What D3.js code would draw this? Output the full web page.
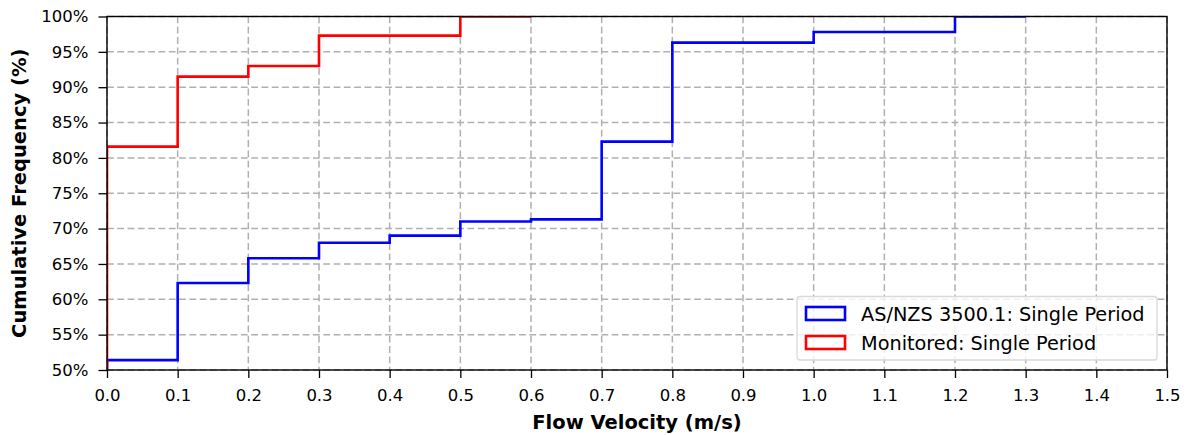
<!DOCTYPE html>
<html><head><meta charset="utf-8">
<script src="https://cdn.jsdelivr.net/npm/d3@7"></script>
<style>body{margin:0;background:#fff}svg{display:block}text{font-family:"DejaVu Sans",sans-serif}</style>
</head><body><svg id="c" width="1187" height="435"></svg>
<script>
// bin edges (m/s) and cumulative frequency (%) of each step
const blueEdges = [0.0, 0.1, 0.2, 0.3, 0.4, 0.5, 0.6, 0.7, 0.8, 1.0, 1.2];
const blueValues = [51.4, 62.3, 65.8, 68.0, 69.0, 71.0, 71.3, 82.3, 96.3, 97.8, 100];
const redEdges = [0.0, 0.1, 0.2, 0.3, 0.5];
const redValues = [81.6, 91.5, 93.0, 97.3, 100];
const xTicks = [0.0,0.1,0.2,0.3,0.4,0.5,0.6,0.7,0.8,0.9,1.0,1.1,1.2,1.3,1.4,1.5];
const yTicks = [50,55,60,65,70,75,80,85,90,95,100];
const legendLabels = ["AS/NZS 3500.1: Single Period", "Monitored: Single Period"];

const svg = d3.select("#c");
const L=107, R=1167, T=16.5, B=370;
const x = d3.scaleLinear().domain([0,1.5]).range([L,R]);
const y = d3.scaleLinear().domain([50,100]).range([B,T]);

svg.append("defs").append("clipPath").attr("id","clip")
  .append("rect").attr("x",L).attr("y",T).attr("width",R-L).attr("height",B-T);

// grid
const g = svg.append("g");
g.selectAll(".gx").data(xTicks).join("line")
  .attr("x1",d=>x(d)).attr("x2",d=>x(d)).attr("y1",T).attr("y2",B)
  .attr("stroke","#b0b0b0").attr("stroke-width",1.5).attr("stroke-dasharray","6.8,3.5");
g.selectAll(".gy").data(yTicks).join("line")
  .attr("y1",d=>y(d)).attr("y2",d=>y(d)).attr("x1",L).attr("x2",R)
  .attr("stroke","#b0b0b0").attr("stroke-width",1.5).attr("stroke-dasharray","6.8,3.5");

function stepPath(edges, vals, endX){
  const pts = [[edges[0], 0]];
  for(let i=0;i<edges.length;i++){
    pts.push([edges[i], vals[i]]);
    const nx = i+1<edges.length ? edges[i+1] : endX;
    pts.push([nx, vals[i]]);
  }
  return d3.line().x(d=>x(d[0])).y(d=>y(d[1]))(pts);
}
const plot = svg.append("g").attr("clip-path","url(#clip)");
plot.append("path").attr("d",stepPath(blueEdges,blueValues,1.3))
  .attr("fill","none").attr("stroke","#0000ff").attr("stroke-width",2.6);
plot.append("path").attr("d",stepPath(redEdges,redValues,0.6))
  .attr("fill","none").attr("stroke","#ff0000").attr("stroke-width",2.6);

// axes
const xa = svg.append("g").attr("transform",`translate(0,${B})`)
  .call(d3.axisBottom(x).tickValues(xTicks).tickFormat(d3.format(".1f")).tickSize(8).tickPadding(11));
const ya = svg.append("g").attr("transform",`translate(${L},0)`)
  .call(d3.axisLeft(y).tickValues(yTicks).tickFormat(d=>d+"%").tickSize(8.5).tickPadding(10));
[xa,ya].forEach(a=>{
  a.select(".domain").remove();
  a.selectAll("line").attr("stroke","#000").attr("stroke-width",1.3);
  a.selectAll("text").attr("font-size",16.5).attr("fill","#000").attr("font-family","DejaVu Sans");
});
svg.append("rect").attr("x",L).attr("y",T).attr("width",R-L).attr("height",B-T)
  .attr("fill","none").attr("stroke","#000").attr("stroke-width",1.4);

svg.append("text").attr("x",(L+R)/2).attr("y",429).attr("text-anchor","middle")
  .attr("font-size",19.5).attr("font-weight","bold").text("Flow Velocity (m/s)");
svg.append("text").attr("transform",`translate(26,${(T+B)/2}) rotate(-90)`).attr("text-anchor","middle")
  .attr("font-size",19.5).attr("font-weight","bold").text("Cumulative Frequency (%)");

// legend
const lg = svg.append("g");
lg.append("rect").attr("x",797).attr("y",296.5).attr("width",360).attr("height",63.5).attr("rx",3)
  .attr("fill","rgba(255,255,255,0.8)").attr("stroke","#d9d9d9").attr("stroke-width",1.3);
const cols = ["#0000ff","#ff0000"];
legendLabels.forEach((t,i)=>{
  lg.append("rect").attr("x",806).attr("y",307+i*29).attr("width",39).attr("height",13)
    .attr("fill","none").attr("stroke",cols[i]).attr("stroke-width",2.6);
  lg.append("text").attr("x",861).attr("y",320.5+i*29).attr("font-size",19.3).attr("fill","#000").text(t);
});
</script></body></html>
